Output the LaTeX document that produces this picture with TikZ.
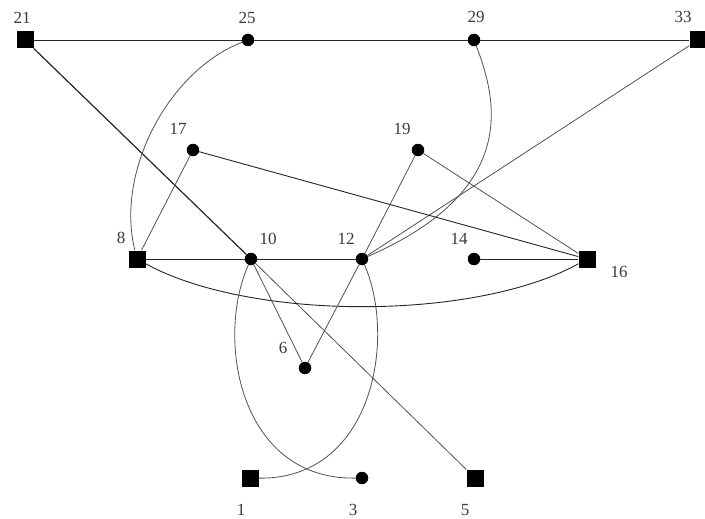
\documentclass[tikz,border=0pt]{standalone}
\usepackage{fontspec}
\setmainfont{Liberation Serif}
\definecolor{lab}{rgb}{0.22,0.22,0.32}
\definecolor{edg}{rgb}{0.15,0.15,0.15}
\begin{document}
\begin{tikzpicture}[x=1pt,y=-1pt,
  sq/.style={fill=black,minimum size=17pt,inner sep=0pt,draw=none},
  dt/.style={circle,fill=black,minimum size=12.5pt,inner sep=0pt,draw=none},
  lb/.style={text=lab,font=\fontsize{17}{20}\selectfont,inner sep=0pt},
  ed/.style={draw=edg,line width=0.9pt},
  ledg/.style={draw=edg!80,line width=0.8pt}]
\useasboundingbox (0,0) rectangle (705,519);
\fill[white] (0,0) rectangle (705,519);
% nodes
\node[sq] (n21) at (25,40) {};
\node[dt] (n25) at (248,40) {};
\node[dt] (n29) at (474,40) {};
\node[sq] (n33) at (698,40) {};
\node[dt] (n17) at (193,150) {};
\node[dt] (n19) at (418,150) {};
\node[sq] (n8) at (137,259) {};
\node[dt] (n10) at (251,259) {};
\node[dt] (n12) at (362,259) {};
\node[dt] (n14) at (474,259) {};
\node[sq] (n16) at (587,259) {};
\node[dt] (n6) at (305,368) {};
\node[sq] (n1) at (250,478) {};
\node[dt] (n3) at (362,478) {};
\node[sq] (n5) at (475,478) {};
% labels
\node[lb] (l21) at (22,18) {21};
\node[lb] (l25) at (247,18) {25};
\node[lb] (l29) at (476,17) {29};
\node[lb] (l33) at (683,17) {33};
\node[lb] (l17) at (178,129) {17};
\node[lb] (l19) at (402,129) {19};
\node[lb] (l8) at (121,238) {8};
\node[lb] (l10) at (268,239) {10};
\node[lb] (l12) at (346,239) {12};
\node[lb] (l14) at (459,239) {14};
\node[lb] (l16) at (619,272) {16};
\node[lb] (l6) at (283,348) {6};
\node[lb] (l1) at (241,510) {1};
\node[lb] (l3) at (353,510) {3};
\node[lb] (l5) at (465,510) {5};
% edges
\draw[ed] (n21) -- (n25);
\draw[ed] (n25) -- (n29);
\draw[ed] (n29) -- (n33);
\draw[ed,line width=1.2pt] (n21) -- (n10);
\draw[ledg] (n10) -- (n5);
\draw[ledg] (n25) .. controls (170,70) and (115,170) .. (n8);
\draw[ledg] (n29) .. controls (497,100) and (520,190) .. (n12);
\draw[ledg] (n33) -- (n12);
\draw[ledg] (n17) -- (n8);
\draw[ed] (n17) -- (n16);
\draw[ledg] (n19) -- (n12);
\draw[ledg] (n19) -- (n16);
\draw[ed] (n8) -- (n10);
\draw[ed] (n10) -- (n12);
\draw[ed] (n14) -- (n16);
\draw[ed] (n8) .. controls (250,321) and (475,321) .. (n16);
\draw[ledg] (n10) -- (n6);
\draw[ledg] (n12) -- (n6);
\draw[ledg] (n10) .. controls (215,340) and (240,480) .. (n3);
\draw[ledg] (n12) .. controls (397,340) and (372,480) .. (n1);
\end{tikzpicture}
\end{document}
